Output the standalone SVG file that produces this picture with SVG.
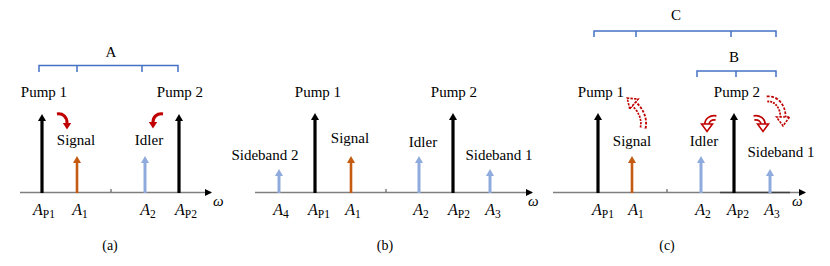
<svg xmlns="http://www.w3.org/2000/svg" width="830" height="266" viewBox="0 0 830 266" font-family="'Liberation Serif', 'DejaVu Serif', serif">
<defs>
<style>
text{font-family:'Liberation Serif','DejaVu Serif',serif;font-size:15px;fill:#000}
.lbl{text-anchor:middle}
.m{font-size:16px;text-anchor:middle}
.m .v{font-style:italic}
.sub{font-size:11.5px}
.cap{font-size:14px;text-anchor:middle}
.axis{stroke:#7f7f7f;stroke-width:1.5;fill:none}
.tick{stroke:#404040;stroke-width:1}
.br{stroke:#4472C4;stroke-width:1.5;fill:none}
.pump{stroke:#000;stroke-width:3.2}
.sig{stroke:#C55A11;stroke-width:2.6}
.idl{stroke:#8FAADC;stroke-width:3}
.red{stroke:#C00000;stroke-width:3;fill:none}
.bandR{stroke:#C00000;stroke-width:6;fill:none}
.bandRd{stroke:#C00000;stroke-width:7;fill:none;stroke-dasharray:2.4 1.3}
.bandW{stroke:#fff;stroke-width:2.6;fill:none}
.bandWd{stroke:#fff;stroke-width:3.4;fill:none}
</style>
<marker id="hk" markerUnits="userSpaceOnUse" viewBox="0 0 7 8" refX="1" refY="4" markerWidth="7" markerHeight="8" orient="auto"><path d="M0,0 L7,4 L0,8 z" fill="#000"/></marker>
<marker id="ho" markerUnits="userSpaceOnUse" viewBox="0 0 7 8" refX="1" refY="4" markerWidth="7" markerHeight="8" orient="auto"><path d="M0,0 L7,4 L0,8 z" fill="#C55A11"/></marker>
<marker id="hb" markerUnits="userSpaceOnUse" viewBox="0 0 7 8" refX="1" refY="4" markerWidth="7" markerHeight="8" orient="auto"><path d="M0,0 L7,4 L0,8 z" fill="#8FAADC"/></marker>
<marker id="ax" markerUnits="userSpaceOnUse" viewBox="0 0 7 7" refX="6" refY="3.5" markerWidth="7" markerHeight="7" orient="auto"><path d="M0,0 L7,3.5 L0,7 z" fill="#000"/></marker>
<marker id="rh" markerUnits="userSpaceOnUse" viewBox="0 -5 8 10" refX="0.5" refY="0" markerWidth="8" markerHeight="10" orient="auto"><path d="M0,-4.5 L7,0 L0,4.5 z" fill="#C00000"/></marker>
<marker id="hh" markerUnits="userSpaceOnUse" viewBox="-1 -7 11 14" refX="0" refY="0" markerWidth="11" markerHeight="14" orient="auto"><path d="M0,-5.5 L7.5,0 L0,5.5 z" fill="#fff" stroke="#C00000" stroke-width="1.6"/></marker>
<marker id="hhd" markerUnits="userSpaceOnUse" viewBox="-1 -8 12 16" refX="0" refY="0" markerWidth="12" markerHeight="16" orient="auto"><path d="M0,-6.5 L9,0 L0,6.5 z" fill="#fff" stroke="#C00000" stroke-width="1.6" stroke-dasharray="2.4 1.2"/></marker>
</defs>

<!-- Panel (a) -->
<g id="panel-a">
  <g id="a-axis">
    <line class="axis" x1="20" y1="192.5" x2="211" y2="192.5" marker-end="url(#ax)"/>
    <line class="tick" x1="111" y1="189" x2="111" y2="192"/>
    <text x="213" y="206" style="font-style:italic;font-size:15px">ω</text>
  </g>
  <g id="a-bracket">
    <path class="br" d="M39,72 V65.5 H178 V72 M77,65.5 V72 M142,65.5 V72"/>
    <text class="lbl" x="111" y="57">A</text>
  </g>
  <g id="a-pump1"><line class="pump" x1="42" y1="193" x2="42" y2="120" marker-end="url(#hk)"/><text class="lbl" x="44" y="97">Pump 1</text>
    <text class="m" x="44" y="215"><tspan class="v">A</tspan><tspan class="sub" dy="3">P1</tspan></text></g>
  <g id="a-signal"><line class="sig" x1="77" y1="193" x2="77" y2="162" marker-end="url(#ho)"/><text class="lbl" x="76" y="145">Signal</text>
    <text class="m" x="80" y="215"><tspan class="v">A</tspan><tspan class="sub" dy="3">1</tspan></text></g>
  <g id="a-idler"><line class="idl" x1="145" y1="193" x2="145" y2="162" marker-end="url(#hb)"/><text class="lbl" x="149" y="145">Idler</text>
    <text class="m" x="148" y="215"><tspan class="v">A</tspan><tspan class="sub" dy="3">2</tspan></text></g>
  <g id="a-pump2"><line class="pump" x1="179" y1="193" x2="179" y2="120" marker-end="url(#hk)"/><text class="lbl" x="180" y="97">Pump 2</text>
    <text class="m" x="186" y="215"><tspan class="v">A</tspan><tspan class="sub" dy="3">P2</tspan></text></g>
  <text class="cap" x="110" y="250">(a)</text>
</g>

<!-- Panel (b) -->
<g id="panel-b">
  <g id="b-axis">
    <line class="axis" x1="255" y1="192.5" x2="532" y2="192.5" marker-end="url(#ax)"/>
    <line class="tick" x1="386" y1="189" x2="386" y2="192"/>
    <text x="528" y="206" style="font-style:italic;font-size:15px">ω</text>
  </g>
  <g id="b-sb2"><line class="idl" x1="279" y1="193" x2="279" y2="175" marker-end="url(#hb)"/><text class="lbl" x="265" y="160">Sideband 2</text>
    <text class="m" x="281" y="215"><tspan class="v">A</tspan><tspan class="sub" dy="3">4</tspan></text></g>
  <g id="b-pump1"><line class="pump" x1="315" y1="193" x2="315" y2="119" marker-end="url(#hk)"/><text class="lbl" x="318" y="97">Pump 1</text>
    <text class="m" x="319" y="215"><tspan class="v">A</tspan><tspan class="sub" dy="3">P1</tspan></text></g>
  <g id="b-signal"><line class="sig" x1="351" y1="193" x2="351" y2="162" marker-end="url(#ho)"/><text class="lbl" x="350" y="143">Signal</text>
    <text class="m" x="353" y="215"><tspan class="v">A</tspan><tspan class="sub" dy="3">1</tspan></text></g>
  <g id="b-idler"><line class="idl" x1="419" y1="193" x2="419" y2="162" marker-end="url(#hb)"/><text class="lbl" x="423" y="147">Idler</text>
    <text class="m" x="421" y="215"><tspan class="v">A</tspan><tspan class="sub" dy="3">2</tspan></text></g>
  <g id="b-pump2"><line class="pump" x1="453" y1="193" x2="453" y2="119" marker-end="url(#hk)"/><text class="lbl" x="454" y="97">Pump 2</text>
    <text class="m" x="459" y="215"><tspan class="v">A</tspan><tspan class="sub" dy="3">P2</tspan></text></g>
  <g id="b-sb1"><line class="idl" x1="490" y1="193" x2="490" y2="175" marker-end="url(#hb)"/><text class="lbl" x="499" y="160">Sideband 1</text>
    <text class="m" x="493" y="215"><tspan class="v">A</tspan><tspan class="sub" dy="3">3</tspan></text></g>
  <text class="cap" x="385" y="250">(b)</text>
</g>

<!-- Panel (c) -->
<g id="panel-c">
  <g id="c-axis">
    <line class="axis" x1="553" y1="192.5" x2="805" y2="192.5" marker-end="url(#ax)"/>
    <line x1="720" y1="192.5" x2="790" y2="192.5" stroke="#404040" stroke-width="1.5"/>
    <line class="tick" x1="667" y1="189" x2="667" y2="192"/>
    <text x="792" y="206" style="font-style:italic;font-size:15px">ω</text>
  </g>
  <g id="c-bracket">
    <path class="br" d="M594,37 V31 H776 V37 M636,31 V37 M731,31 V37"/>
    <text class="lbl" x="676" y="20">C</text>
  </g>
  <g id="b-bracket">
    <path class="br" d="M697,77 V71 H776 V77 M736,71 V77"/>
    <text class="lbl" x="734" y="62">B</text>
  </g>
  <g id="c-pump1"><line class="pump" x1="598" y1="193" x2="598" y2="119" marker-end="url(#hk)"/><text class="lbl" x="601" y="97">Pump 1</text>
    <text class="m" x="603" y="215"><tspan class="v">A</tspan><tspan class="sub" dy="3">P1</tspan></text></g>
  <g id="c-signal"><line class="sig" x1="632" y1="193" x2="632" y2="162" marker-end="url(#ho)"/><text class="lbl" x="632" y="146">Signal</text>
    <text class="m" x="636" y="215"><tspan class="v">A</tspan><tspan class="sub" dy="3">1</tspan></text></g>
  <g id="c-idler"><line class="idl" x1="701" y1="193" x2="701" y2="162" marker-end="url(#hb)"/><text class="lbl" x="704" y="146">Idler</text>
    <text class="m" x="703" y="215"><tspan class="v">A</tspan><tspan class="sub" dy="3">2</tspan></text></g>
  <g id="c-pump2"><line class="pump" x1="734" y1="193" x2="734" y2="119" marker-end="url(#hk)"/><text class="lbl" x="737" y="97">Pump 2</text>
    <text class="m" x="738" y="215"><tspan class="v">A</tspan><tspan class="sub" dy="3">P2</tspan></text></g>
  <g id="c-sb1"><line class="idl" x1="770" y1="193" x2="770" y2="175" marker-end="url(#hb)"/><text class="lbl" x="781" y="157">Sideband 1</text>
    <text class="m" x="772" y="215"><tspan class="v">A</tspan><tspan class="sub" dy="3">3</tspan></text></g>
  <text class="cap" x="667" y="250">(c)</text>
</g>

<!-- Curved conversion arrows -->
<g id="connectors">
  <path class="red" d="M57,114 C63,113 67,117 67,123" marker-end="url(#rh)"/>
  <path class="red" d="M163,114 C157,113 153,117 153,122" marker-end="url(#rh)"/>

  <path class="bandRd" d="M643,128 C645,119 641,110 634,104"/>
  <path class="bandWd" d="M643,128 C645,119 641,110 634,104" marker-end="url(#hhd)"/>

  <path class="bandR" d="M716,118 C711,117 707,120 707,124"/>
  <path class="bandW" d="M716,118 C711,117 707,120 707,124" marker-end="url(#hh)"/>

  <path class="bandR" d="M754,118 C759,117 763,120 763,124"/>
  <path class="bandW" d="M754,118 C759,117 763,120 763,124" marker-end="url(#hh)"/>

  <path class="bandRd" d="M767,99 C776,98 783,106 783,117"/>
  <path class="bandWd" d="M767,99 C776,98 783,106 783,117" marker-end="url(#hhd)"/>
</g>
</svg>
